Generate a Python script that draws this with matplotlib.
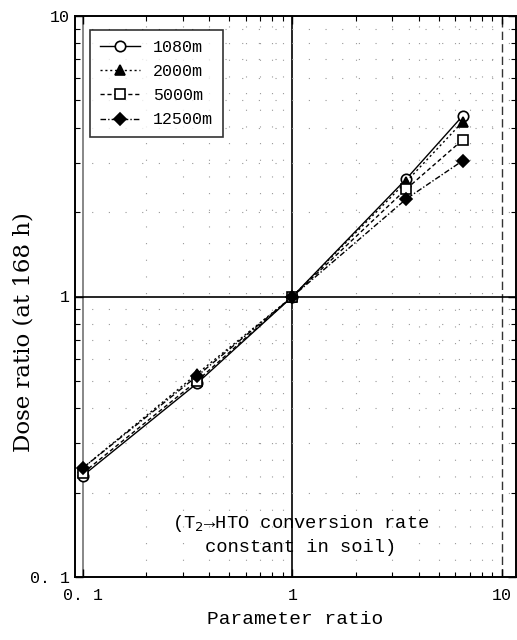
import matplotlib
matplotlib.use("Agg")
import matplotlib.pyplot as plt
from matplotlib.ticker import LogLocator, NullFormatter, FixedLocator

param_ratio = [0.1, 0.35, 1.0, 3.5, 6.5]
labels = ["1080m", "2000m", "5000m", "12500m"]
dose_1080 = [0.23, 0.49, 1.0, 2.63, 4.41]
dose_2000 = [0.245, 0.53, 1.0, 2.57, 4.2]
dose_5000 = [0.235, 0.50, 1.0, 2.42, 3.62]
dose_12500 = [0.245, 0.52, 1.0, 2.23, 3.05]
series = [dose_1080, dose_2000, dose_5000, dose_12500]
markers = ["o", "^", "s", "D"]
facecolors = ["white", "black", "white", "black"]
linestyles = ["-", (0, (1.5, 2)), (0, (3, 2)), (0, (4, 1.5, 1, 1.5))]
msizes = [7.5, 7.5, 7.5, 6.5]

plt.rcParams["font.family"] = ["Liberation Mono", "DejaVu Sans Mono"]

fig = plt.figure(figsize=(5.17, 6.4), dpi=100)
ax = fig.add_axes([75/517, (640-577)/640, (516-75)/517, (577-16)/640])
ax.set_xscale("log")
ax.set_yscale("log")
ax.set_xlim(10**(-1 - 8/209), 10**(1 + 14/209))
ax.set_ylim(0.1, 10)

# grid
ax.axvline(0.1, color="0.45", lw=1.2, zorder=1)
ax.axvline(10, color="0.2", lw=1.0, ls=(0, (6, 3)), zorder=1)
ax.axvline(1, color="black", lw=1.2, zorder=1)
ax.axhline(1, color="black", lw=1.2, zorder=1)
ax.grid(True, which="minor", color="0.6", lw=0.8, ls=(0, (1, 14)), zorder=0)

for y, lab, m, fc, ls, ms in zip(series, labels, markers, facecolors, linestyles, msizes):
    ax.plot(param_ratio, y, color="black", lw=1.0, ls=ls, marker=m, ms=ms,
            mfc=fc, mec="black", mew=1.2, label=lab, zorder=3)

ax.xaxis.set_major_locator(FixedLocator([0.1, 1, 10]))
ax.yaxis.set_major_locator(FixedLocator([0.1, 1, 10]))
ax.set_xticklabels(["0. 1", "1", "10"])
ax.set_yticklabels(["0. 1", "1", "10"])
ax.xaxis.set_minor_locator(LogLocator(base=10, subs=range(2, 10)))
ax.yaxis.set_minor_locator(LogLocator(base=10, subs=range(2, 10)))
ax.xaxis.set_minor_formatter(NullFormatter())
ax.yaxis.set_minor_formatter(NullFormatter())
ax.tick_params(which="both", direction="in", top=True, right=True, labelsize=12, colors="black")
ax.tick_params(which="major", length=6, width=1)
ax.tick_params(which="minor", length=3.5, width=0.8)
ax.tick_params(axis="x", pad=8)
for sp in ax.spines.values():
    sp.set_linewidth(1.4)

ax.set_xlabel("Parameter ratio", fontsize=14, labelpad=6)
fig.text(24/517, 1 - 332/640, "Dose ratio (at 168 h)", rotation=90, ha="center", va="center",
         fontsize=16.5, family=["DejaVu Serif"])

leg = ax.legend(loc="upper left", bbox_to_anchor=(0.015, 0.99), fontsize=12,
                frameon=True, fancybox=False, edgecolor="black", handlelength=2.4,
                borderpad=0.6, labelspacing=0.55, handletextpad=0.8)
leg.get_frame().set_linewidth(1.2)

ax.text(1.09, 0.142, "(T$_2$\u2192HTO conversion rate\nconstant in soil)", ha="center",
        va="center", fontsize=13.5, linespacing=1.35, zorder=4)

fig.savefig("out.png", dpi=100)
